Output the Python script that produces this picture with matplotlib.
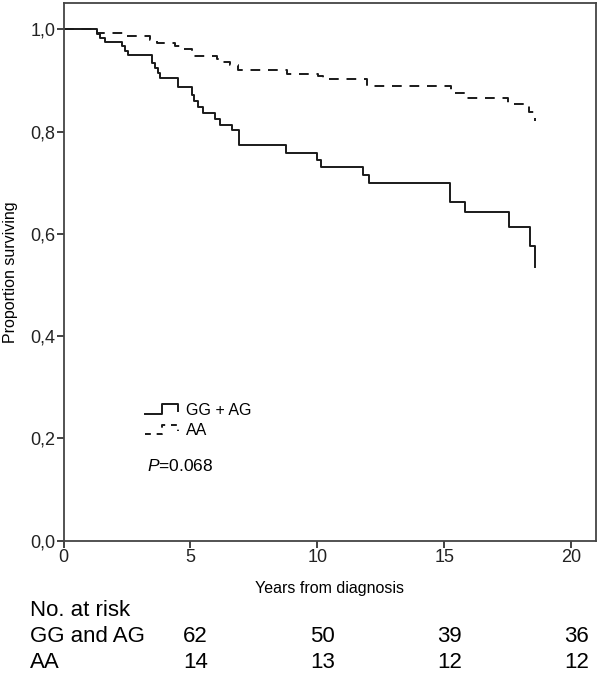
import matplotlib
matplotlib.use('Agg')
import matplotlib.pyplot as plt
from matplotlib.legend_handler import HandlerBase
from matplotlib.lines import Line2D

plt.rcParams['font.family'] = ['Liberation Sans', 'DejaVu Sans']
plt.rcParams['mathtext.fontset'] = 'custom'
plt.rcParams['mathtext.it'] = 'Liberation Sans:italic'
plt.rcParams['mathtext.rm'] = 'Liberation Sans'

# Kaplan-Meier steps (time in years, survival after the step)
gg_t = [0, 1.33, 1.45, 1.63, 2.29, 2.42, 2.55, 3.47, 3.60, 3.70, 3.80, 4.52, 5.04,
        5.15, 5.30, 5.50, 5.96, 6.16, 6.62, 6.92, 8.77, 9.97, 10.16, 11.80, 12.04,
        15.24, 15.83, 17.55, 18.37, 18.59]
gg_s = [1.0, 0.990, 0.983, 0.976, 0.967, 0.958, 0.950, 0.935, 0.925, 0.915, 0.904,
        0.888, 0.872, 0.860, 0.848, 0.836, 0.825, 0.813, 0.803, 0.774, 0.759, 0.745,
        0.730, 0.715, 0.699, 0.663, 0.643, 0.614, 0.576, 0.535]

aa_t = [0, 1.33, 2.40, 3.41, 3.67, 4.39, 4.65, 5.05, 5.15, 6.03, 6.23, 6.56, 6.88,
        8.80, 10.03, 10.23, 11.94, 15.25, 15.81, 17.53, 18.32, 18.56]
aa_s = [1.0, 0.993, 0.986, 0.980, 0.973, 0.967, 0.961, 0.955, 0.948, 0.941, 0.936,
        0.931, 0.920, 0.913, 0.908, 0.902, 0.890, 0.875, 0.865, 0.853, 0.839, 0.820]

group_labels = ['GG + AG', 'AA']
risk_rows = ['GG and AG', 'AA']
risk_times = [5, 10, 15, 20]
risk_gg = [62, 50, 39, 36]
risk_aa = [14, 13, 12, 12]
p_text = '$\\mathit{P}$=0.068'


class StepHandler(HandlerBase):
    # little step icon like the one SPSS puts in its legend
    def create_artists(self, legend, orig_handle, xdescent, ydescent,
                       width, height, fontsize, trans):
        x0 = -xdescent
        y0 = -ydescent
        xs = [x0, x0 + width * 0.5, x0 + width * 0.5, x0 + width, x0 + width]
        ys = [y0 + height * 0.1, y0 + height * 0.1, y0 + height * 0.95,
              y0 + height * 0.95, y0 + height * 0.35]
        ln = Line2D(xs, ys, color=orig_handle.get_color(),
                    linestyle=orig_handle.get_linestyle(),
                    linewidth=orig_handle.get_linewidth(), transform=trans)
        if orig_handle.get_linestyle() != '-':
            ln.set_dashes((3, 3))
        return [ln]


fig = plt.figure(figsize=(6.0, 6.78), dpi=100)
ax = fig.add_axes([0.106, 0.2025, 0.887, 0.7935])

l1, = ax.step(gg_t, gg_s, where='post', color='#1a1a1a', linewidth=1.4)
l2, = ax.step(aa_t, aa_s, where='post', color='#1a1a1a', linewidth=1.4,
              linestyle=(0, (5, 4)))

ax.set_xlim(0, 20.97)
ax.set_ylim(0, 1.052)
ax.set_xticks([0, 5, 10, 15, 20])
ax.set_yticks([0, 0.2, 0.4, 0.6, 0.8, 1.0])
ax.set_yticklabels(['0,0', '0,2', '0,4', '0,6', '0,8', '1,0'])
ax.tick_params(direction='out', length=5, width=1.2, labelsize=13,
               colors='#222222', pad=1)
for sp in ax.spines.values():
    sp.set_color('#444444')
    sp.set_linewidth(1.3)

ax.set_xlabel('Years from diagnosis', fontsize=11.5, labelpad=11)
ax.set_ylabel('Proportion surviving', fontsize=11.5, labelpad=9)

leg = ax.legend([l1, l2], group_labels, handler_map={l1: StepHandler(), l2: StepHandler()},
                loc='center left', bbox_to_anchor=(3.2, 0.235),
                bbox_transform=ax.transData, frameon=False, fontsize=11.5,
                handlelength=2.1, handletextpad=0.5, labelspacing=0.35,
                borderpad=0, borderaxespad=0)
ax.text(3.3, 0.146, p_text, fontsize=12.5, va='center', ha='left')

# number-at-risk table under the plot
fig.text(0.05, 1 - 611 / 678, 'No. at risk', fontsize=16, va='center')
fig.text(0.05, 1 - 637 / 678, risk_rows[0], fontsize=16, va='center')
fig.text(0.05, 1 - 662 / 678, risk_rows[1], fontsize=16, va='center')
for t, a, b in zip(risk_times, risk_gg, risk_aa):
    ax.annotate(str(a), xy=(t + 0.2, 1 - 637 / 678), xycoords=('data', 'figure fraction'),
                ha='center', va='center', fontsize=16, annotation_clip=False)
    ax.annotate(str(b), xy=(t + 0.2, 1 - 662 / 678), xycoords=('data', 'figure fraction'),
                ha='center', va='center', fontsize=16, annotation_clip=False)

fig.savefig('out.png', dpi=100)
